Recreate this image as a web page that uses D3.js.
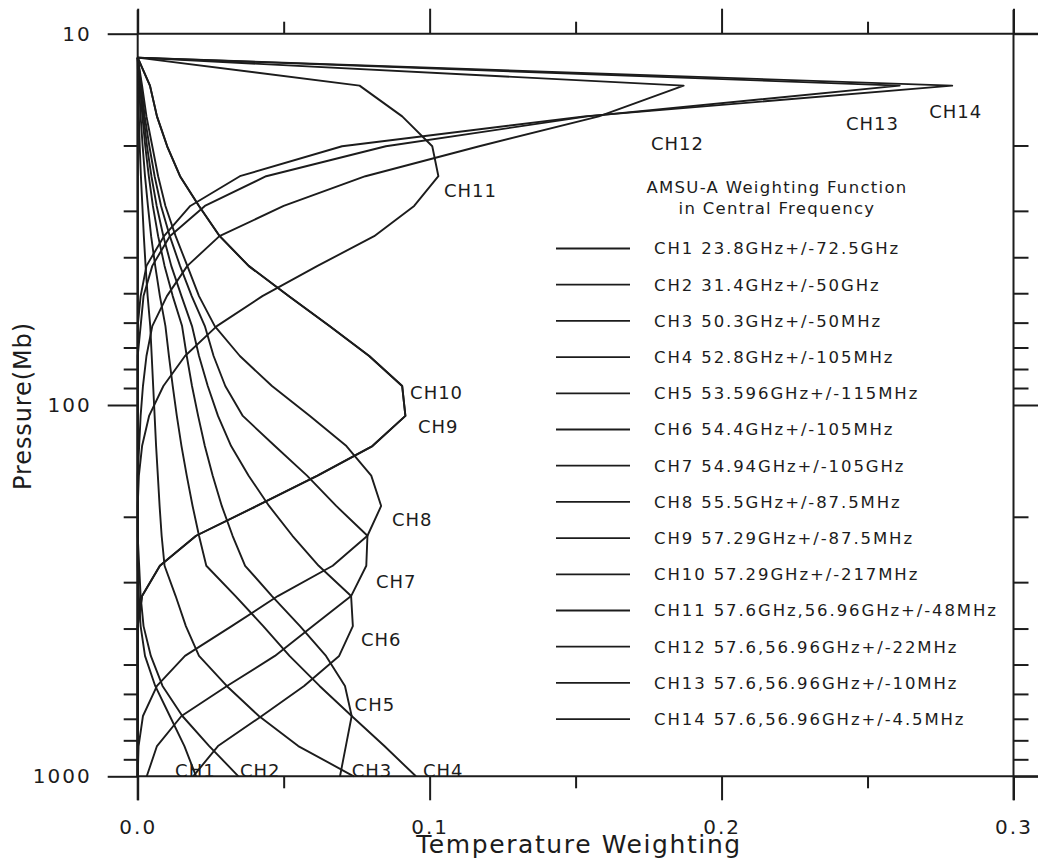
<!DOCTYPE html>
<html><head><meta charset="utf-8">
<script src="https://cdn.jsdelivr.net/npm/d3@7"></script>
<style>
body{margin:0;background:#fff}
svg text{font-family:"DejaVu Sans",sans-serif;fill:#1c1c1c}
</style></head>
<body><svg id="c" width="1038" height="858"></svg>
<script>
// ---------------- data ----------------
const pressureLevels = [1000, 829, 688, 571, 474, 394, 327, 271, 225, 187, 155, 129, 107, 88.9, 73.8, 61.3, 50.9, 42.2, 35.1, 29.1, 24.2, 20.1, 16.7, 13.8, 11.6];
const ch1  = [0.020, 0.016, 0.011, 0.006, 0.0025, 0.001, 0.0004, 0, 0, 0, 0, 0, 0, 0, 0, 0, 0, 0, 0, 0, 0, 0, 0, 0, 0];
const ch2  = [0.0345, 0.0245, 0.0153, 0.0085, 0.0045, 0.002, 0.001, 0.0005, 0, 0, 0, 0, 0, 0, 0, 0, 0, 0, 0, 0, 0, 0, 0, 0, 0];
const ch3  = [0.074, 0.055, 0.0415, 0.0305, 0.021, 0.0165, 0.013, 0.0092, 0.0082, 0.0075, 0.0069, 0.0063, 0.0058, 0.0053, 0.0048, 0.0043, 0.0034, 0.0027, 0.0021, 0.0016, 0.0011, 0.0007, 0.0004, 0.0002, 0];
const ch4  = [0.0953, 0.0845, 0.0733, 0.0623, 0.052, 0.043, 0.0335, 0.0235, 0.021, 0.0188, 0.0168, 0.015, 0.0134, 0.012, 0.0107, 0.0095, 0.0076, 0.006, 0.0046, 0.0035, 0.0025, 0.0017, 0.001, 0.0005, 0];
const ch5  = [0.0693, 0.0713, 0.0733, 0.071, 0.0645, 0.0556, 0.046, 0.0368, 0.0325, 0.0288, 0.0257, 0.023, 0.0207, 0.0186, 0.0168, 0.0152, 0.012, 0.0092, 0.007, 0.0052, 0.0038, 0.0026, 0.0016, 0.0008, 0];
const ch6  = [0.019, 0.0275, 0.0425, 0.057, 0.069, 0.0737, 0.0731, 0.062, 0.053, 0.045, 0.038, 0.032, 0.0275, 0.024, 0.021, 0.0186, 0.015, 0.0115, 0.0088, 0.0065, 0.0047, 0.0032, 0.002, 0.001, 0];
const ch7  = [0.0031, 0.0066, 0.015, 0.0306, 0.047, 0.060, 0.0731, 0.0783, 0.0787, 0.068, 0.058, 0.047, 0.036, 0.030, 0.026, 0.023, 0.0185, 0.0145, 0.011, 0.008, 0.0058, 0.004, 0.0024, 0.0012, 0];
const ch8  = [0, 0.0003, 0.0018, 0.0066, 0.0162, 0.0322, 0.048, 0.0668, 0.0787, 0.0834, 0.080, 0.0715, 0.059, 0.046, 0.035, 0.0264, 0.021, 0.017, 0.013, 0.0095, 0.007, 0.005, 0.003, 0.0015, 0];
const ch9  = [0, 0, 0, 0, 0, 0, 0.0015, 0.0076, 0.020, 0.0408, 0.0616, 0.0804, 0.0917, 0.0906, 0.0793, 0.0657, 0.0517, 0.038, 0.0281, 0.021, 0.0145, 0.0101, 0.0066, 0.0042, 0];
const ch10 = [0, 0, 0, 0, 0, 0, 0.0015, 0.0076, 0.020, 0.0408, 0.0616, 0.0804, 0.0917, 0.0906, 0.0793, 0.0657, 0.0517, 0.038, 0.0281, 0.021, 0.0145, 0.0101, 0.0066, 0.0042, 0];
const ch11 = [0, 0, 0, 0, 0, 0, 0, 0, 0, 0, 0.0004, 0.0015, 0.0039, 0.0088, 0.0162, 0.0271, 0.0427, 0.0616, 0.081, 0.0947, 0.103, 0.1009, 0.0906, 0.076, 0];
const ch12 = [0, 0, 0, 0, 0, 0, 0, 0, 0, 0, 0, 0.0005, 0.001, 0.0018, 0.003, 0.005, 0.010, 0.017, 0.028, 0.050, 0.078, 0.117, 0.158, 0.187, 0];
const ch13 = [0, 0, 0, 0, 0, 0, 0, 0, 0, 0, 0, 0, 0, 0, 0, 0.001, 0.002, 0.005, 0.011, 0.023, 0.044, 0.085, 0.154, 0.261, 0];
const ch14 = [0, 0, 0, 0, 0, 0, 0, 0, 0, 0, 0, 0, 0, 0, 0, 0, 0.001, 0.003, 0.009, 0.018, 0.035, 0.070, 0.153, 0.279, 0];

const channelNames = ["CH1","CH2","CH3","CH4","CH5","CH6","CH7","CH8","CH9","CH10","CH11","CH12","CH13","CH14"];
const channelValues = [ch1, ch2, ch3, ch4, ch5, ch6, ch7, ch8, ch9, ch10, ch11, ch12, ch13, ch14];
// where each curve label sits, in data units (weighting, pressure)
const labelWeight   = [0.0128, 0.0350, 0.0733, 0.0977, 0.0743, 0.0765, 0.0816, 0.0871, 0.0960, 0.0933, 0.1049, 0.1758, 0.2426, 0.2711];
const labelPressure = [967, 967, 967, 962, 639, 427, 298, 203, 114, 92.8, 26.5, 19.7, 17.5, 16.2];

const legendTitle = ["AMSU-A Weighting Function", "in Central Frequency"];
const legendLabels = [
  "CH1 23.8GHz+/-72.5GHz",
  "CH2 31.4GHz+/-50GHz",
  "CH3 50.3GHz+/-50MHz",
  "CH4 52.8GHz+/-105MHz",
  "CH5 53.596GHz+/-115MHz",
  "CH6 54.4GHz+/-105MHz",
  "CH7 54.94GHz+/-105GHz",
  "CH8 55.5GHz+/-87.5MHz",
  "CH9 57.29GHz+/-87.5MHz",
  "CH10 57.29GHz+/-217MHz",
  "CH11 57.6GHz,56.96GHz+/-48MHz",
  "CH12 57.6,56.96GHz+/-22MHz",
  "CH13 57.6,56.96GHz+/-10MHz",
  "CH14 57.6,56.96GHz+/-4.5MHz"
];
const xMajorTicks = [0, 0.1, 0.2, 0.3];
const xMinorTicks = [0.05, 0.15, 0.25];
const yMajorTicks = [10, 100, 1000];
const yMinorTicks = [20, 30, 40, 50, 60, 70, 80, 90, 200, 300, 400, 500, 600, 700, 800, 900];
const xTitle = "Temperature Weighting";
const yTitle = "Pressure(Mb)";

// ---------------- drawing ----------------
const svg = d3.select("#c");
const ink = "#1c1c1c";
const x = d3.scaleLinear().domain([0, 0.3]).range([137.7, 1013.5]);
const y = d3.scaleLog().domain([10, 1000]).range([33.7, 776.3]);
const [X0, X1] = x.range();
const [Y0, Y1] = y.range();

function styleAxis(g, withText) {
  g.select(".domain").remove();
  g.selectAll(".tick line").attr("stroke", ink).attr("stroke-width", 2);
  if (withText) g.selectAll(".tick text").attr("fill", ink).style("font-size", "20px").style("letter-spacing", "2px").attr("font-family", null);
  else g.selectAll(".tick text").remove();
}
// left
svg.append("g").attr("transform", `translate(${X0},0)`)
  .call(d3.axisLeft(y).tickValues(yMinorTicks).tickSize(14).tickFormat(""))
  .call(g => styleAxis(g, false));
svg.append("g").attr("transform", `translate(${X0},0)`)
  .call(d3.axisLeft(y).tickValues(yMajorTicks).tickSize(30).tickPadding(16).tickFormat(d3.format("d")))
  .call(g => styleAxis(g, true));
// right
svg.append("g").attr("transform", `translate(${X1},0)`)
  .call(d3.axisRight(y).tickValues(yMinorTicks).tickSize(15).tickFormat(""))
  .call(g => styleAxis(g, false));
svg.append("g").attr("transform", `translate(${X1},0)`)
  .call(d3.axisRight(y).tickValues(yMajorTicks).tickSize(30).tickFormat(""))
  .call(g => styleAxis(g, false));
// top
svg.append("g").attr("transform", `translate(0,${Y0})`)
  .call(d3.axisTop(x).tickValues(xMinorTicks).tickSize(12).tickFormat(""))
  .call(g => styleAxis(g, false));
svg.append("g").attr("transform", `translate(0,${Y0})`)
  .call(d3.axisTop(x).tickValues(xMajorTicks).tickSize(25).tickFormat(""))
  .call(g => styleAxis(g, false));
// bottom
svg.append("g").attr("transform", `translate(0,${Y1})`)
  .call(d3.axisBottom(x).tickValues(xMinorTicks).tickSize(12).tickFormat(""))
  .call(g => styleAxis(g, false));
svg.append("g").attr("transform", `translate(0,${Y1})`)
  .call(d3.axisBottom(x).tickValues(xMajorTicks).tickSize(24).tickPadding(20).tickFormat(d3.format(".1f")))
  .call(g => styleAxis(g, true));

// frame lines
const frame = svg.append("g").attr("stroke", ink).attr("stroke-width", 2);
frame.append("line").attr("x1", X0).attr("x2", X0).attr("y1", Y0 - 24).attr("y2", Y1 + 24);
frame.append("line").attr("x1", X1).attr("x2", X1).attr("y1", Y0 - 24).attr("y2", Y1 + 24);
frame.append("line").attr("x1", X0).attr("x2", 1038).attr("y1", Y0).attr("y2", Y0);
frame.append("line").attr("x1", X0).attr("x2", 1038).attr("y1", Y1).attr("y2", Y1);

// curves
const line = d3.line().x(d => x(d[0])).y(d => y(d[1]));
const curves = channelNames.map((name, i) => ({
  name, pts: channelValues[i].map((w, k) => [w, pressureLevels[k]])
}));
svg.append("g").selectAll("path").data(curves).join("path")
  .attr("d", d => line(d.pts))
  .attr("fill", "none").attr("stroke", ink).attr("stroke-width", 1.9)
  .attr("stroke-linejoin", "round");

// curve labels
svg.append("g").selectAll("text").data(channelNames).join("text")
  .attr("x", (d, i) => x(labelWeight[i]))
  .attr("y", (d, i) => y(labelPressure[i]))
  .attr("dy", "0.36em")
  .style("font-size", "18px").style("letter-spacing", "1px")
  .text(d => d);

// legend
const lg = svg.append("g");
lg.selectAll("text.title").data(legendTitle).join("text").attr("class", "title")
  .attr("x", 777).attr("y", (d, i) => 187 + i * 21).attr("dy", "0.36em")
  .attr("text-anchor", "middle")
  .style("font-size", "16.5px").style("letter-spacing", "1.3px")
  .text(d => d);
const rows = lg.selectAll("g.row").data(legendLabels).join("g").attr("class", "row")
  .attr("transform", (d, i) => `translate(0,${248.5 + i * 36.2})`);
rows.append("line").attr("x1", 556).attr("x2", 630).attr("y1", 0).attr("y2", 0)
  .attr("stroke", ink).attr("stroke-width", 1.8);
rows.append("text").attr("x", 654).attr("y", 0).attr("dy", "0.36em")
  .style("font-size", "16.5px").style("letter-spacing", "1.9px")
  .text(d => d);

// axis titles
svg.append("text").attr("x", 579).attr("y", 853).attr("text-anchor", "middle")
  .style("font-size", "25px").style("letter-spacing", "1.6px").text(xTitle);
svg.append("text").attr("transform", "translate(31,406) rotate(-90)").attr("text-anchor", "middle")
  .style("font-size", "24px").style("letter-spacing", "0.9px").text(yTitle);
</script>
</body></html>
